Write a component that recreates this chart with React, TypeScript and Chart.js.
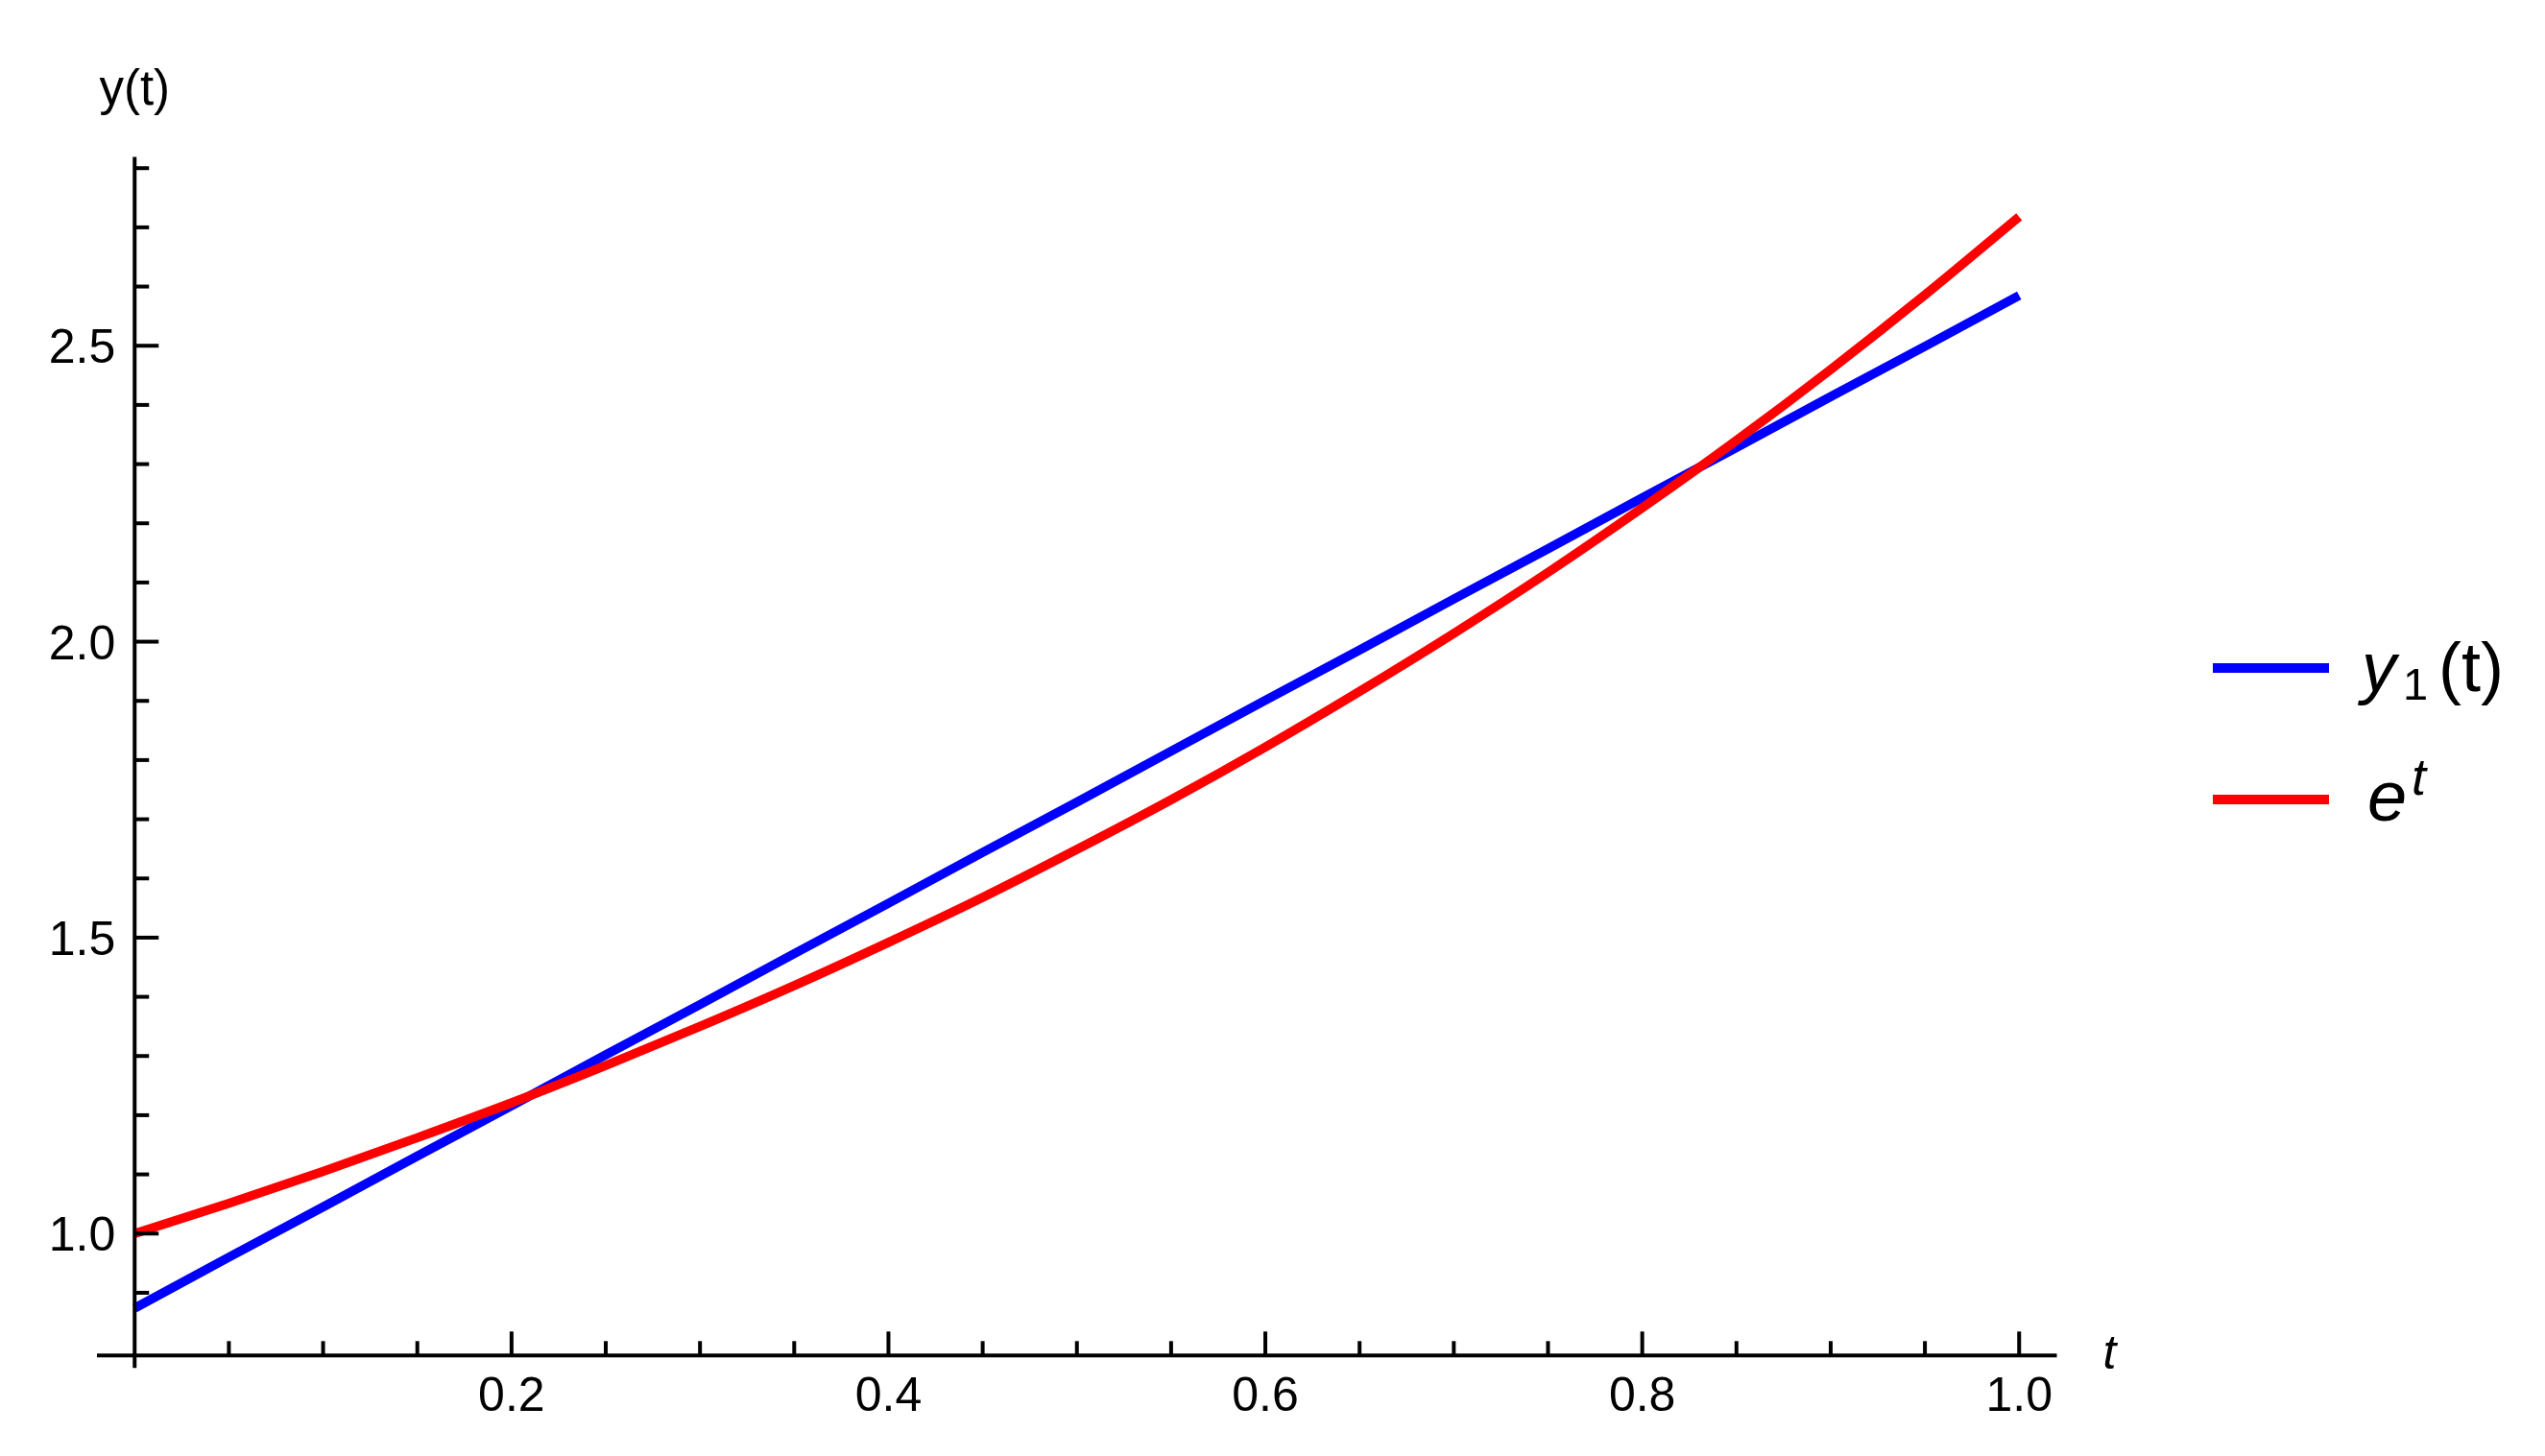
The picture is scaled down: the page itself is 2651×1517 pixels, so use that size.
import React, { useEffect, useRef } from "react";
import { Chart, registerables } from "chart.js";

Chart.register(...registerables);

// ---- data ----
const tValues = [0, 0.05, 0.1, 0.15, 0.2, 0.25, 0.3, 0.35, 0.4, 0.45, 0.5, 0.55, 0.6, 0.65, 0.7, 0.75, 0.8, 0.85, 0.9, 0.95, 1.0];
const y1Values = [0.874, 0.960, 1.045, 1.131, 1.216, 1.302, 1.387, 1.473, 1.558, 1.644, 1.729, 1.815, 1.901, 1.986, 2.072, 2.157, 2.243, 2.328, 2.414, 2.499, 2.585];
const expValues = [1.000, 1.051, 1.105, 1.162, 1.221, 1.284, 1.350, 1.419, 1.492, 1.568, 1.649, 1.733, 1.822, 1.916, 2.014, 2.117, 2.226, 2.340, 2.460, 2.586, 2.718];

const xMajorTicks = [0.2, 0.4, 0.6, 0.8, 1.0];
const xTickLabels = ["0.2", "0.4", "0.6", "0.8", "1.0"];
const xMinorTicks = [0.05, 0.1, 0.15, 0.25, 0.3, 0.35, 0.45, 0.5, 0.55, 0.65, 0.7, 0.75, 0.85, 0.9, 0.95];
const yMajorTicks = [1.0, 1.5, 2.0, 2.5];
const yTickLabels = ["1.0", "1.5", "2.0", "2.5"];
const yMinorTicks = [0.9, 1.1, 1.2, 1.3, 1.4, 1.6, 1.7, 1.8, 1.9, 2.1, 2.2, 2.3, 2.4, 2.6, 2.7, 2.8];

const X_MIN = -0.02;
const X_MAX = 1.02;
const Y_MIN = 0.794;
const Y_MAX = 2.819;

const seriesNames = ["y1(t)", "e^t"];
const BLUE = "#0000ff";
const RED = "#ff0000";
const FONT = "'Liberation Sans', Arial, sans-serif";

const axesPlugin = {
  id: "mmaAxes",
  afterDatasetsDraw(chart: any) {
    const ctx = chart.ctx as CanvasRenderingContext2D;
    const xs = chart.scales.x;
    const ys = chart.scales.y;
    const ca = chart.chartArea;
    const x0 = xs.getPixelForValue(0);
    const yb = ys.getPixelForValue(Y_MIN);

    ctx.save();
    ctx.strokeStyle = "#000";
    ctx.fillStyle = "#000";
    ctx.lineWidth = 4;
    ctx.lineCap = "butt";

    const line = (a: number, b: number, c: number, d: number) => {
      ctx.beginPath();
      ctx.moveTo(a, b);
      ctx.lineTo(c, d);
      ctx.stroke();
    };

    // axes
    line(ca.left, yb, ca.right, yb);
    line(x0, ca.top, x0, yb + 13);

    // x ticks
    xMajorTicks.forEach((v) => {
      const p = xs.getPixelForValue(v);
      line(p, yb, p, yb - 25);
    });
    xMinorTicks.forEach((v) => {
      const p = xs.getPixelForValue(v);
      line(p, yb, p, yb - 15);
    });
    // y ticks
    yMajorTicks.forEach((v) => {
      const p = ys.getPixelForValue(v);
      line(x0, p, x0 + 25, p);
    });
    yMinorTicks.forEach((v) => {
      const p = ys.getPixelForValue(v);
      line(x0, p, x0 + 15, p);
    });

    // tick labels
    ctx.font = `50px ${FONT}`;
    ctx.textBaseline = "alphabetic";
    ctx.textAlign = "center";
    xMajorTicks.forEach((v, i) => {
      ctx.fillText(xTickLabels[i], xs.getPixelForValue(v), yb + 58);
    });
    ctx.textAlign = "right";
    yMajorTicks.forEach((v, i) => {
      ctx.fillText(yTickLabels[i], x0 - 20, ys.getPixelForValue(v) + 18);
    });

    // axis labels
    ctx.textAlign = "center";
    ctx.font = `51px ${FONT}`;
    ctx.fillText("y(t)", x0, ca.top - 55);
    ctx.textAlign = "left";
    ctx.font = `italic 50px ${FONT}`;
    ctx.fillText("t", ca.right + 48, yb + 14);

    // legend
    const lx0 = 2305, lx1 = 2426;
    const ly = [696, 833];
    const colors = [BLUE, RED];
    ctx.lineWidth = 10;
    colors.forEach((c, i) => {
      ctx.strokeStyle = c;
      line(lx0, ly[i], lx1, ly[i]);
    });

    // y_1(t)
    ctx.font = `italic 72px ${FONT}`;
    ctx.fillText("y", 2460, 720);
    ctx.font = `47px ${FONT}`;
    ctx.fillText("1", 2503, 729);
    ctx.font = `72px ${FONT}`;
    ctx.fillText("(t)", 2540, 720);

    // e^t
    ctx.font = `italic 74px ${FONT}`;
    ctx.fillText("e", 2466, 855);
    ctx.font = `italic 54px ${FONT}`;
    ctx.fillText("t", 2512, 828);

    ctx.restore();
  },
};

export default function App() {
  const canvasRef = useRef<HTMLCanvasElement | null>(null);

  useEffect(() => {
    const canvas = canvasRef.current;
    if (!canvas) return;
    const blueData = tValues.map((t, i) => ({ x: t, y: y1Values[i] }));
    const redData = tValues.map((t, i) => ({ x: t, y: expValues[i] }));

    const chart = new Chart(canvas, {
      type: "line",
      data: {
        datasets: [
          {
            label: seriesNames[0],
            data: blueData,
            borderColor: BLUE,
            borderWidth: 9.5,
            pointRadius: 0,
            fill: false,
            tension: 0,
            borderCapStyle: "butt",
            order: 1,
          },
          {
            label: seriesNames[1],
            data: redData,
            borderColor: RED,
            borderWidth: 9.5,
            pointRadius: 0,
            fill: false,
            cubicInterpolationMode: "monotone",
            borderCapStyle: "butt",
            order: 0,
          },
        ],
      },
      options: {
        animation: false,
        responsive: false,
        devicePixelRatio: 1,
        layout: {
          padding: { left: 101, right: 508.5, top: 163.5, bottom: 104.7 },
        },
        plugins: {
          legend: { display: false },
          tooltip: { enabled: false },
          title: { display: false },
        },
        scales: {
          x: { type: "linear", min: X_MIN, max: X_MAX, display: false },
          y: { type: "linear", min: Y_MIN, max: Y_MAX, display: false },
        },
      },
      plugins: [axesPlugin],
    });
    return () => chart.destroy();
  }, []);

  return (
    <div style={{ position: "absolute", left: 0, top: 0, width: 2651, height: 1517, background: "#fff" }}>
      <canvas ref={canvasRef} width={2651} height={1517} style={{ display: "block", width: 2651, height: 1517 }} />
    </div>
  );
}
